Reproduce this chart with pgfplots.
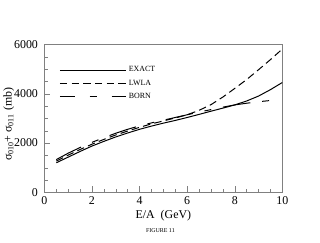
\documentclass[border=0pt]{standalone}
\usepackage{fontspec}
\setmainfont{Liberation Serif}
\usepackage{pgfplots}
\pgfplotsset{compat=1.18}
\begin{document}
\begin{tikzpicture}
\begin{axis}[
  at={(0,0)}, anchor=south west,
  scale only axis, width=240pt, height=149pt,
  xmin=0, xmax=10, ymin=0, ymax=6000,
  xtick={0,2,4,6,8,10}, ytick={0,2000,4000,6000},
  minor x tick num=3, minor y tick num=3,
  tick align=inside, xtick pos=left, ytick pos=left,
  major tick length=6pt, minor tick length=3.5pt,
  axis line style={black!50}, every tick/.style={black!50},
  /pgf/number format/assume math mode=true,
  /pgf/number format/1000 sep={},
  ticklabel style={font=\fontsize{12}{14}\selectfont},
  yticklabel style={xshift=-3pt},
  xticklabel style={yshift=-1pt},
  label style={font=\fontsize{12}{14}\selectfont},
  xlabel={E/A\ \ (GeV)},
  ylabel={σ\textsubscript{010}+ σ\textsubscript{011} (mb)},
  xlabel style={at={(axis description cs:0.5,0)}, anchor=center, yshift=-24pt},
  ylabel style={at={(axis description cs:-0.15,0.46)}, anchor=center},
  legend style={at={(axis description cs:0.0625,0.865)}, anchor=north west, draw=none, fill=none,
    font=\fontsize{8}{9}\selectfont, inner sep=0pt, row sep=2.5pt,
    /tikz/every even column/.append style={column sep=9pt}},
  legend cell align=left,
]
\addplot[black, line width=1pt, legend image code/.code={\draw[black, line width=1pt] (0pt,0pt) -- (67pt,0pt);}] coordinates {
(0.5,1200) (1,1430) (1.5,1660) (2,1880) (2.5,2070) (3,2250) (3.5,2410) (4,2560) (4.5,2690) (5,2810) (5.5,2920) (6,3040) (6.5,3165) (7,3295) (7.5,3420) (8,3550) (8.5,3710) (9,3910) (9.5,4170) (10,4460)};
\addlegendentry{EXACT}
\addplot[black, line width=1pt, dash pattern=on 7.5pt off 4.3pt, legend image code/.code={\draw[black, line width=1pt, dash pattern=on 7.5pt off 4.3pt] (0pt,0pt) -- (67pt,0pt);}] coordinates {
(0.5,1270) (1,1510) (1.5,1740) (2,1955) (2.5,2150) (3,2330) (3.5,2490) (4,2640) (4.5,2780) (5,2900) (5.5,3020) (6,3150) (6.5,3330) (7,3560) (7.5,3870) (8,4220) (8.5,4580) (9,4980) (9.5,5390) (10,5820)};
\addlegendentry{LWLA}
\addplot[black, line width=1pt, dash pattern=on 28pt off 12pt on 7pt off 12pt, legend image code/.code={\draw[black, line width=1pt, dash pattern=on 15pt off 15pt on 7pt off 15pt] (0pt,0pt) -- (67pt,0pt);}] coordinates {
(0.5,1330) (1,1590) (1.5,1820) (2,2030) (2.5,2220) (3,2400) (3.5,2560) (4,2700) (4.5,2820) (5,2930) (5.5,3040) (6,3150) (6.5,3260) (7,3360) (7.5,3460) (8,3550) (8.5,3620) (9,3680) (9.5,3730) (9.9,3770)};
\addlegendentry{BORN}
\end{axis}
\node[font=\fontsize{6}{7}\selectfont] at (117pt,-39pt) {FIGURE 11};
\path[use as bounding box] (-42pt,-51pt) rectangle (278pt,194pt);
\end{tikzpicture}
\end{document}
